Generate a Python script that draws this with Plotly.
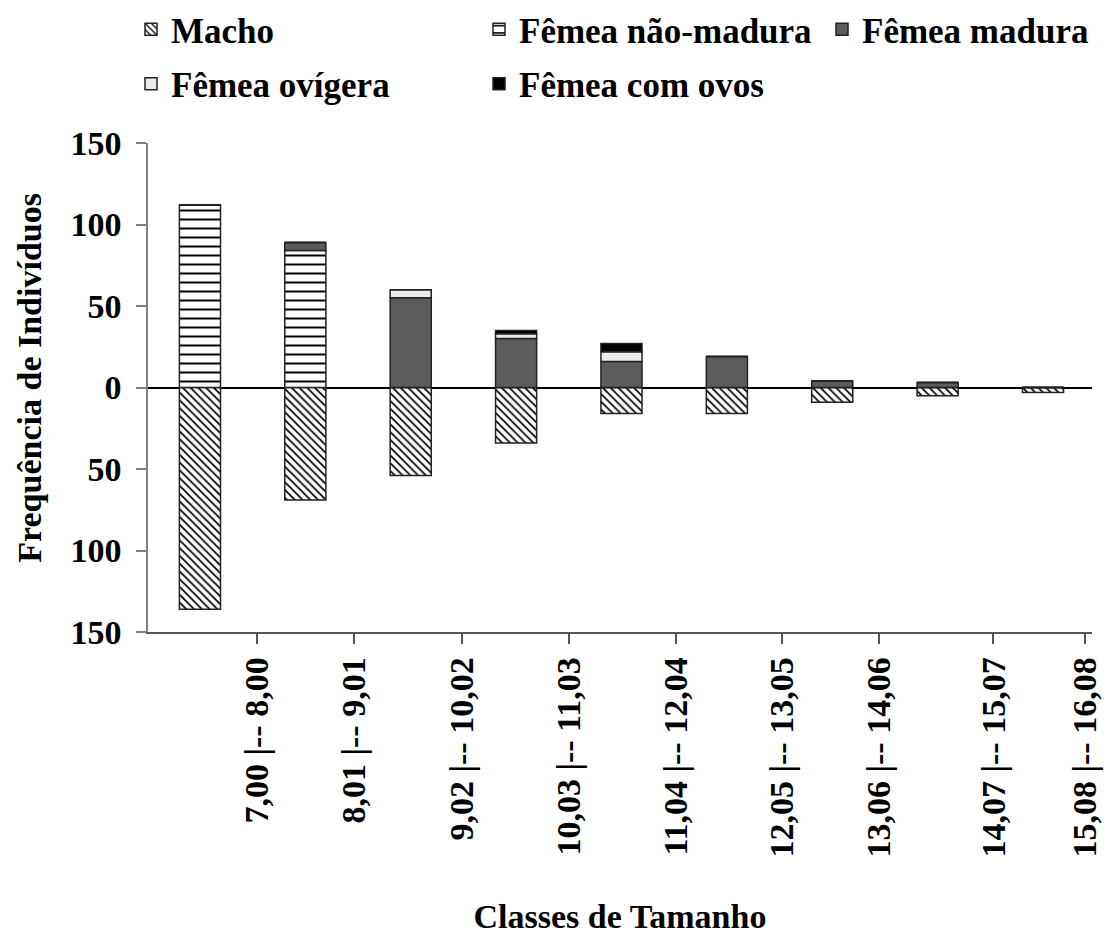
import plotly.graph_objects as go

# Size classes (carapace width, mm) and counts per reproductive category
classes = ["7,00 |-- 8,00", "8,01 |-- 9,01", "9,02 |-- 10,02", "10,03 |-- 11,03",
           "11,04 |-- 12,04", "12,05 |-- 13,05", "13,06 |-- 14,06",
           "14,07 |-- 15,07", "15,08 |-- 16,08"]
macho = [136, 69, 54, 34, 16, 16, 9, 5, 3]
femea_nao_madura = [112, 84, 0, 0, 0, 0, 0, 0, 0]
femea_madura = [0, 5, 55, 30, 16, 19, 4, 3, 0]
femea_ovigera = [0, 0, 5, 3, 6, 0, 0, 0, 0]
femea_com_ovos = [0, 0, 0, 2, 5, 0, 0, 0, 0]

y_tickvals = [-150, -100, -50, 0, 50, 100, 150]
y_ticktext = ["150", "100", "50", "0", "50", "100", "150"]

# where the class labels sit along the category axis
label_pos = [0.54, 1.46, 2.49, 3.50, 4.52, 5.52, 6.44, 7.53, 8.40]

FONT = "Liberation Serif"
font = dict(family=FONT, size=34, color="black", weight="bold")
legend_font = dict(family=FONT, size=35, color="black", weight="bold")
x = list(range(len(classes)))
outline = dict(color="#222222", width=1.5)

fig = go.Figure()
fig.add_trace(go.Bar(
    x=x, y=[-v for v in macho], name="Macho", legend="legend", legendgroup="m",
    marker=dict(color="white", line=outline,
                pattern=dict(shape="\\", size=5.5, solidity=0.3,
                             fgcolor="black", bgcolor="white", fillmode="replace")),
))
fig.add_trace(go.Bar(
    x=x, y=femea_nao_madura, name="Fêmea não-madura", legend="legend2", legendgroup="nm",
    marker=dict(color="white", line=outline,
                pattern=dict(shape="-", size=9, solidity=0.22,
                             fgcolor="black", bgcolor="white", fillmode="replace")),
))
fig.add_trace(go.Bar(
    x=x, y=femea_madura, name="Fêmea madura", legend="legend3", legendgroup="ma",
    marker=dict(color="#5c5c5c", line=outline),
))
fig.add_trace(go.Bar(
    x=x, y=femea_ovigera, name="Fêmea ovígera", legend="legend", legendgroup="ov",
    marker=dict(color="#ebebeb", line=outline),
))
fig.add_trace(go.Bar(
    x=x, y=femea_com_ovos, name="Fêmea com ovos", legend="legend2", legendgroup="co",
    marker=dict(color="black", line=outline),
))

legend_common = dict(orientation="v", xref="container", yref="container",
                     xanchor="left", yanchor="top", font=legend_font,
                     bgcolor="rgba(0,0,0,0)", borderwidth=0, tracegroupgap=6)

fig.update_layout(
    width=1106, height=935,
    margin=dict(l=148, r=14, t=143, b=303, autoexpand=False),
    paper_bgcolor="white", plot_bgcolor="white",
    barmode="relative", bargap=0.61,
    font=font,
    legend=dict(x=131 / 1106, y=1 + 3 / 935, **legend_common),
    legend2=dict(x=479 / 1106, y=1 + 3 / 935, **legend_common),
    legend3=dict(x=822 / 1106, y=1 + 3 / 935, **legend_common),
    xaxis=dict(
        range=[-0.493, 8.465], tickmode="array", tickvals=label_pos, ticktext=classes,
        tickangle=-90, ticks="outside", ticklen=10, tickcolor="#555555", tickwidth=1.5,
        showline=True, linecolor="#555555", linewidth=1.5,
        showgrid=False, zeroline=False, tickfont=font,
        title=dict(text="Classes de Tamanho", font=font, standoff=56),
        automargin=False,
    ),
    yaxis=dict(
        range=[-150, 150], tickmode="array", tickvals=y_tickvals, ticktext=y_ticktext,
        ticks="outside", ticklen=10, tickcolor="#808080", tickwidth=1.5,
        showline=True, linecolor="#808080", linewidth=1.5, ticklabelstandoff=8,
        showgrid=False, zeroline=True, zerolinecolor="black", zerolinewidth=1.5,
        tickfont=font, automargin=False,
    ),
    annotations=[dict(
        text="Frequência de Indivíduos", textangle=-90, font=font, showarrow=False,
        xref="paper", yref="paper", x=-0.125, y=0.52,
        xanchor="center", yanchor="middle",
    )],
)

fig.write_html("out.html")
